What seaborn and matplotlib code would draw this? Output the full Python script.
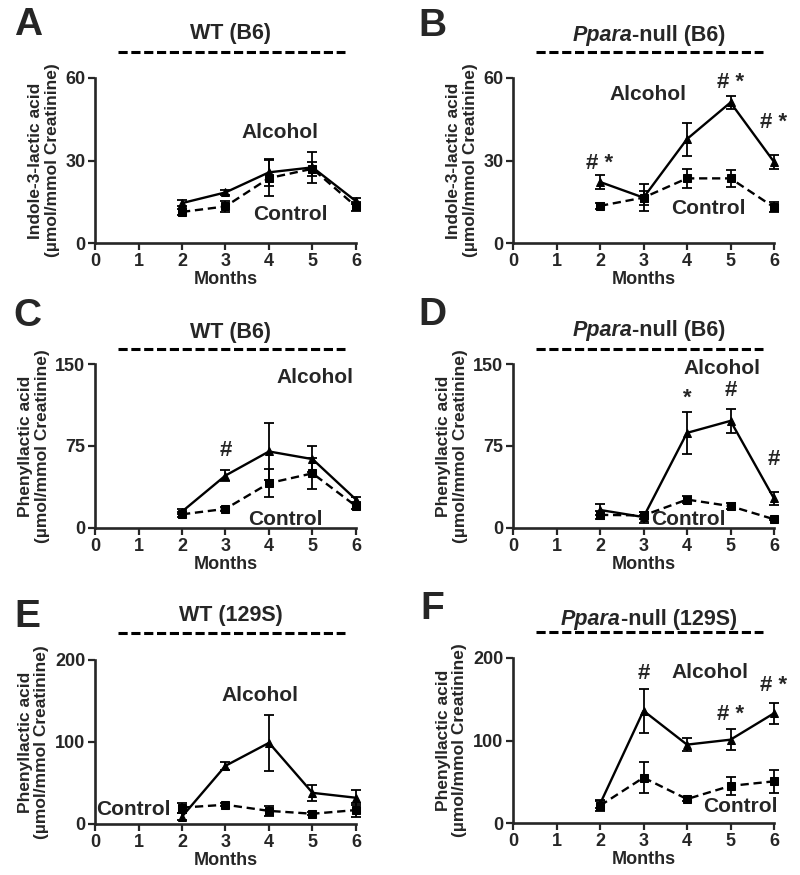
import matplotlib
matplotlib.use('Agg')
import matplotlib.pyplot as plt
import seaborn as sns
from matplotlib.offsetbox import TextArea, HPacker, AnnotationBbox

# months sampled in every panel
months = [2, 3, 4, 5, 6]

# A: indole-3-lactic acid, WT (B6)
a_alc = [14.5, 18.4, 25.7, 27.5, 15.2]
a_alc_err = [1.0, 1.0, 5.0, 5.5, 1.0]
a_ctl = [11.3, 13.3, 23.6, 27.0, 13.3]
a_ctl_err = [1.0, 2.0, 6.5, 2.5, 1.5]

# B: indole-3-lactic acid, Ppara-null (B6)
b_alc = [22.2, 16.5, 37.8, 51.1, 29.5]
b_alc_err = [2.5, 5.0, 6.0, 2.5, 2.5]
b_ctl = [13.5, 16.5, 23.5, 23.5, 13.0]
b_ctl_err = [1.0, 2.5, 3.5, 3.0, 1.8]

# C: phenyllactic acid, WT (B6)
c_alc = [15, 48, 70, 63, 26]
c_alc_err = [2, 5, 26, 12, 2]
c_ctl = [12.5, 17.5, 41, 50, 20]
c_ctl_err = [2, 1.5, 13, 14, 3]

# D: phenyllactic acid, Ppara-null (B6)
d_alc = [16.5, 10, 87, 98, 27]
d_alc_err = [5, 5, 19, 11, 6]
d_ctl = [12, 11.5, 26, 20, 8]
d_ctl_err = [4, 3, 3, 3, 1]

# E: phenyllactic acid, WT (129S)
e_alc = [9, 71, 99, 38, 32]
e_alc_err = [4, 5, 34, 10, 9]
e_ctl = [20, 23.5, 16, 12.5, 17]
e_ctl_err = [6, 2, 6, 2, 9]

# F: phenyllactic acid, Ppara-null (129S)
f_alc = [23, 136, 95, 101, 133]
f_alc_err = [5, 27, 8, 13, 13]
f_ctl = [21, 55, 29, 45, 50.5]
f_ctl_err = [6, 19, 2, 11, 14]

# significance marks (month, y, text)
b_marks = [(2, 29, '# *'), (5, 58.5, '# *'), (6, 44, '# *')]
c_marks = [(3, 71, '#')]
d_marks = [(4, 119, '*'), (5, 126, '#'), (6, 63, '#')]
f_marks = [(3, 181, '#'), (5, 132, '# *'), (6, 167, '# *')]

ILA = 'Indole-3-lactic acid\n(\u00b5mol/mmol Creatinine)'
PLA = 'Phenyllactic acid\n(\u00b5mol/mmol Creatinine)'

panels = [
    dict(letter='A', italic='', rest='WT (B6)', ylab=ILA, ymax=60,
         alc=a_alc, alc_err=a_alc_err, ctl=a_ctl, ctl_err=a_ctl_err, marks=[],
         alc_txt=(4.25, 40), ctl_txt=(4.48, 10.3)),
    dict(letter='B', italic='Ppara', rest='-null (B6)', ylab=ILA, ymax=60,
         alc=b_alc, alc_err=b_alc_err, ctl=b_ctl, ctl_err=b_ctl_err, marks=b_marks,
         alc_txt=(3.1, 54), ctl_txt=(4.5, 12.4)),
    dict(letter='C', italic='', rest='WT (B6)', ylab=PLA, ymax=150,
         alc=c_alc, alc_err=c_alc_err, ctl=c_ctl, ctl_err=c_ctl_err, marks=c_marks,
         alc_txt=(5.06, 138), ctl_txt=(4.37, 8.2)),
    dict(letter='D', italic='Ppara', rest='-null (B6)', ylab=PLA, ymax=150,
         alc=d_alc, alc_err=d_alc_err, ctl=d_ctl, ctl_err=d_ctl_err, marks=d_marks,
         alc_txt=(4.8, 146), ctl_txt=(4.03, 8.2)),
    dict(letter='E', italic='', rest='WT (129S)', ylab=PLA, ymax=200,
         alc=e_alc, alc_err=e_alc_err, ctl=e_ctl, ctl_err=e_ctl_err, marks=[],
         alc_txt=(3.79, 157), ctl_txt=(0.88, 17.4)),
    dict(letter='F', italic='Ppara', rest='-null (129S)', ylab=PLA, ymax=200,
         alc=f_alc, alc_err=f_alc_err, ctl=f_ctl, ctl_err=f_ctl_err, marks=f_marks,
         alc_txt=(4.53, 182), ctl_txt=(5.22, 19.4)),
]

# layout in pixels of the 800x875 canvas: axes left/bottom/top, letter, title, dash line
W, H = 800, 875
layout = [
    dict(left=95, bottom=243, top=78, letter=(28, 25), title=(231, 33), dash=52),
    dict(left=513, bottom=243, top=78, letter=(432, 26), title=(649, 35), dash=52),
    dict(left=95, bottom=528, top=364, letter=(27, 316), title=(231, 332), dash=349),
    dict(left=513, bottom=528, top=364, letter=(432, 315), title=(649, 330), dash=349),
    dict(left=95, bottom=824, top=660, letter=(27, 617), title=(231, 615), dash=633),
    dict(left=513, bottom=823, top=658, letter=(432, 609), title=(649, 620), dash=632),
]
AX_W = 261

sns.set_style('ticks')
plt.rcParams['font.family'] = ['Liberation Sans', 'DejaVu Sans']
plt.rcParams['font.weight'] = 'bold'
plt.rcParams['axes.labelweight'] = 'bold'

fig = plt.figure(figsize=(W / 100, H / 100), dpi=100)

for p, lay in zip(panels, layout):
    h = lay['bottom'] - lay['top']
    ax = fig.add_axes([lay['left'] / W, 1 - lay['bottom'] / H, AX_W / W, h / H])

    sns.lineplot(x=months, y=p['ctl'], ax=ax, color='black', marker='s', markersize=6,
                 markeredgecolor='black', lw=1.7, linestyle=(0, (3.5, 2)))
    sns.lineplot(x=months, y=p['alc'], ax=ax, color='black', marker='^', markersize=6,
                 markeredgecolor='black', lw=1.7, linestyle='-')
    for ln in ax.lines:
        ln.set_clip_on(False)
    for vals, errs in ((p['ctl'], p['ctl_err']), (p['alc'], p['alc_err'])):
        eb = ax.errorbar(months, vals, yerr=errs, fmt='none', ecolor='black',
                         elinewidth=1.3, capsize=3.5, capthick=1.3)
        for art in eb.lines[1] + eb.lines[2]:
            art.set_clip_on(False)

    ax.set_xlim(0, 6)
    ax.set_ylim(0, p['ymax'])
    ax.set_xticks(range(7))
    ax.set_yticks([0, p['ymax'] // 2, p['ymax']])
    ax.tick_params(axis='both', width=1.6, length=5, labelsize=13, pad=2)
    for lab in ax.get_xticklabels() + ax.get_yticklabels():
        lab.set_fontweight('bold')
    sns.despine(ax=ax)
    for s in ('left', 'bottom'):
        ax.spines[s].set_linewidth(1.9)
    ax.set_xlabel('Months', fontsize=13, fontweight='bold', labelpad=1)
    ax.set_ylabel(p['ylab'], fontsize=12.5, fontweight='bold', labelpad=4, linespacing=1.1)

    ax.text(*p['alc_txt'], 'Alcohol', fontsize=15, fontweight='bold', ha='center', va='center')
    ax.text(*p['ctl_txt'], 'Control', fontsize=15, fontweight='bold', ha='center', va='center')
    for mx, my, mt in p['marks']:
        ax.text(mx, my, mt, fontsize=16, fontweight='bold', ha='center', va='center')

    # group header with dashed rule
    yd = (lay['bottom'] - lay['dash']) / h
    ax.plot([0.088, 0.958], [yd, yd], transform=ax.transAxes, color='black', lw=2.2,
            linestyle=(0, (3.0, 1.2)), clip_on=False)
    tx = (lay['title'][0] - lay['left']) / AX_W
    ty = (lay['bottom'] - lay['title'][1]) / h
    parts = []
    if p['italic']:
        parts.append(TextArea(p['italic'], textprops=dict(fontsize=15.5, fontweight='bold',
                                                           fontstyle='italic')))
    parts.append(TextArea(p['rest'], textprops=dict(fontsize=15.5, fontweight='bold')))
    box = HPacker(children=parts, align='baseline', pad=0, sep=0)
    ab = AnnotationBbox(box, (tx, ty), xycoords='axes fraction', frameon=False,
                        box_alignment=(0.5, 0.5), annotation_clip=False)
    ax.add_artist(ab)

    fig.text(lay['letter'][0] / W, 1 - lay['letter'][1] / H, p['letter'], fontsize=28,
             fontweight='bold', ha='center', va='center')

fig.savefig('out.png', dpi=100)
